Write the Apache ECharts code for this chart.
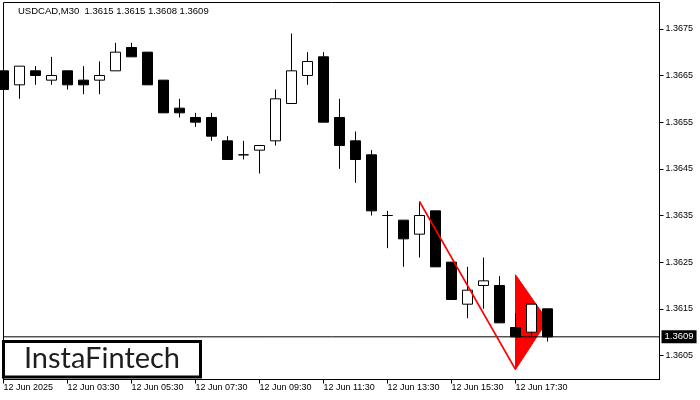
<!DOCTYPE html>
<html><head><meta charset="utf-8">
<script src="https://cdn.jsdelivr.net/npm/echarts@6/dist/echarts.min.js"></script>
<style>html,body{margin:0;padding:0;background:#fff}#c{width:700px;height:400px}</style>
</head><body><div id="c"></div>
<script>
const symbol = 'USDCAD,M30';
const times = ['01:30','02:00','02:30','03:00','03:30','04:00','04:30','05:00','05:30','06:00',
  '06:30','07:00','07:30','08:00','08:30','09:00','09:30','10:00','10:30','11:00',
  '11:30','12:00','12:30','13:00','13:30','14:00','14:30','15:00','15:30','16:00',
  '16:30','17:00','17:30','18:00','18:30'];
const futureTimes = ['19:00','19:30','20:00','20:30','21:00','21:30','22:00'];
const opens  = [1.3666,1.3663,1.3666,1.3664,1.3666,1.3664,1.3664,1.3666,1.3671,1.3670,1.3664,1.3658,1.3656,1.3656,1.3651,1.3648,1.3649,1.3651,1.3659,1.3665,1.3669,1.3656,1.3651,1.3648,1.3635,1.3634,1.3631,1.3636,1.3625,1.3616,1.3620,1.3620,1.3611,1.3610,1.3615];
const highs  = [1.3667,1.3667,1.3667,1.3669,1.3666,1.3667,1.3668,1.3672,1.3672,1.3670,1.3664,1.3660,1.3657,1.3657,1.3652,1.3651,1.3650,1.3662,1.3674,1.3670,1.3670,1.3660,1.3653,1.3649,1.3636,1.3634,1.3638,1.3636,1.3625,1.3624,1.3626,1.3622,1.3614,1.3616,1.3615];
const lows   = [1.3662,1.3660,1.3663,1.3663,1.3662,1.3661,1.3661,1.3666,1.3669,1.3663,1.3657,1.3656,1.3654,1.3651,1.3647,1.3647,1.3644,1.3650,1.3659,1.3663,1.3655,1.3645,1.3642,1.3635,1.3628,1.3624,1.3626,1.3624,1.3617,1.3613,1.3615,1.3612,1.3609,1.3609,1.3608];
const closes = [1.3662,1.3667,1.3665,1.3665,1.3663,1.3663,1.3665,1.3670,1.3669,1.3663,1.3657,1.3657,1.3655,1.3652,1.3647,1.3648,1.3650,1.3660,1.3666,1.3668,1.3655,1.3650,1.3647,1.3636,1.3635,1.3630,1.3635,1.3624,1.3617,1.3619,1.3621,1.3612,1.3609,1.3616,1.3609];
const tickTimes  = ['01:30','03:30','05:30','07:30','09:30','11:30','13:30','15:30','17:30'];
const tickLabels = ['12 Jun 2025','12 Jun 03:30','12 Jun 05:30','12 Jun 07:30','12 Jun 09:30','12 Jun 11:30','12 Jun 13:30','12 Jun 15:30','12 Jun 17:30'];
const priceTicks = [1.3605,1.3615,1.3625,1.3635,1.3645,1.3655,1.3665,1.3675];
const yMin = 1.359986, yMax = 1.368064;
// pattern (bearish pennant)
const poleTimes = ['14:30','17:30'];
const polePrices = [1.3638,1.3602];
const flagTimes = ['17:30','17:30','18:30'];
const flagPrices = [1.36223,1.36020,1.36125];

const cats = times.concat(futureTimes);
const n = times.length;
const candleData = opens.map((o,i)=>[o, closes[i], lows[i], highs[i]]);
const last = n-1;
const lastPrice = closes[last];
const header = symbol + '  ' + [opens[last],highs[last],lows[last],closes[last]].map(v=>v.toFixed(4)).join(' ');
const font = 'Liberation Sans';

const chart = echarts.init(document.getElementById('c'), null, {renderer:'canvas'});
chart.setOption({
  animation:false,
  backgroundColor:'#fff',
  grid:{left:3.5, top:2.5, width:656, height:377, show:true, borderColor:'#000', borderWidth:1, backgroundColor:'transparent'},
  xAxis:{
    type:'category', data:cats, boundaryGap:false,
    axisLine:{show:true, lineStyle:{color:'#000', width:1}},
    axisTick:{show:true, length:4, interval:(i,v)=>tickTimes.includes(v), lineStyle:{color:'#000'}},
    axisLabel:{interval:(i,v)=>tickTimes.includes(v), formatter:(v)=>tickLabels[tickTimes.indexOf(v)],
      align:'left', margin:4, color:'#000', fontFamily:font, fontSize:9},
    splitLine:{show:false}
  },
  yAxis:{
    type:'value', position:'right', min:yMin, max:yMax, scale:true,
    splitLine:{show:false},
    axisLine:{show:true, lineStyle:{color:'#000', width:1}},
    axisTick:{show:true, length:4, customValues:priceTicks, lineStyle:{color:'#000'}},
    axisLabel:{customValues:priceTicks, formatter:(v)=>v.toFixed(4), margin:6, color:'#000', fontFamily:font, fontSize:9}
  },
  series:[
    {
      type:'custom', z:1, clip:true, silent:true,
      data:[[cats.indexOf(flagTimes[0]), flagPrices[0]]],
      renderItem:(params, api)=>{
        const pts = flagTimes.map((t,i)=>api.coord([cats.indexOf(t), flagPrices[i]]));
        return {type:'polygon', shape:{points:pts}, style:{fill:'#ff0000', stroke:'#ff0000', lineWidth:1}};
      }
    },
    {
      type:'line', z:2, silent:true, symbol:'none',
      data:[[0, lastPrice],[cats.length-1, lastPrice]],
      lineStyle:{color:'#000', width:1},
      endLabel:{show:true, formatter:()=>lastPrice.toFixed(4), backgroundColor:'#000', color:'#fff',
        padding:[2,3,1,3], distance:2, fontFamily:font, fontSize:9.5}
    },
    {
      type:'candlestick', z:3, data:candleData, barWidth:10, clip:true,
      itemStyle:{color:'#ffffff', color0:'#000000', borderColor:'#000000', borderColor0:'#000000', borderWidth:1}
    },
    {
      type:'line', z:4, silent:true, symbol:'none',
      data:poleTimes.map((t,i)=>[cats.indexOf(t), polePrices[i]]),
      lineStyle:{color:'#ff0000', width:1.6}
    }
  ],
  graphic:[
    {type:'text', left:18, top:6, z:100, style:{text:header, fill:'#000', font:'9.5px "Liberation Sans"'}},
    {type:'rect', z:100, shape:{x:3.5, y:341.5, width:197, height:35.5}, style:{fill:'#fff', stroke:'#000', lineWidth:3}},
    {type:'text', z:101, x:102, y:359, style:{text:'InstaFintech', fill:'#1e1e1e', font:'29px Lato', align:'center', verticalAlign:'middle'}}
  ]
});
</script></body></html>
